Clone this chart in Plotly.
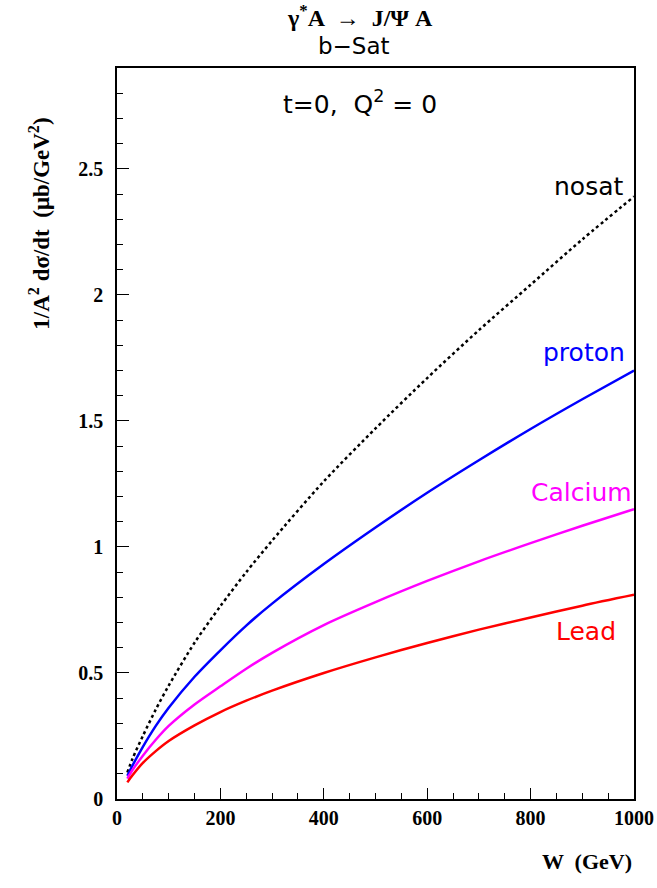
import plotly.graph_objects as go

W = [20, 30, 50, 75, 100, 150, 200, 250, 300, 400, 500, 600, 700, 800, 900, 1000]
nosat = [0.105, 0.16, 0.25, 0.355, 0.45, 0.62, 0.765, 0.90, 1.025, 1.26, 1.47, 1.67, 1.86, 2.04, 2.22, 2.39]
proton = [0.092, 0.133, 0.207, 0.29, 0.362, 0.485, 0.59, 0.688, 0.775, 0.932, 1.077, 1.215, 1.344, 1.468, 1.586, 1.70]
calcium = [0.081, 0.115, 0.172, 0.235, 0.29, 0.375, 0.447, 0.517, 0.58, 0.69, 0.781, 0.865, 0.943, 1.015, 1.084, 1.15]
lead = [0.066, 0.094, 0.143, 0.19, 0.23, 0.292, 0.345, 0.39, 0.43, 0.50, 0.562, 0.619, 0.672, 0.72, 0.767, 0.81]

x_ticks = [0, 200, 400, 600, 800, 1000]
y_ticks = [0, 0.5, 1, 1.5, 2, 2.5]
y_tick_text = ["0", "0.5", "1", "1.5", "2", "2.5"]

series = [
    ("nosat", nosat, "#000000", "dot"),
    ("proton", proton, "#0000ff", "solid"),
    ("Calcium", calcium, "#ff00ff", "solid"),
    ("Lead", lead, "#ff0000", "solid"),
]

fig = go.Figure()
for name, vals, col, dash in series:
    fig.add_trace(go.Scatter(x=W, y=vals, mode="lines", name=name,
                             line=dict(color=col, width=2.5, dash=dash, shape="spline", smoothing=0.8)))

serif = "Liberation Serif"
sans = "DejaVu Sans"

fig.update_layout(
    width=657, height=888,
    margin=dict(l=117, r=23, t=68, b=89),
    paper_bgcolor="white", plot_bgcolor="white",
    showlegend=False,
    xaxis=dict(range=[0, 1000], tickvals=x_ticks, ticktext=["<b>%d</b>" % v for v in x_ticks],
               ticks="inside", ticklen=11, tickwidth=1, tickcolor="black",
               minor=dict(ticks="inside", dtick=50, ticklen=6, tickcolor="black"),
               showline=True, linecolor="black", linewidth=1.5, mirror=True,
               showgrid=False, zeroline=False, automargin=False,
               tickfont=dict(family=serif, size=20, color="black")),
    yaxis=dict(range=[0, 2.9], tickvals=y_ticks, ticktext=["<b>%s</b>" % t for t in y_tick_text],
               ticks="inside", ticklen=12, tickwidth=1, tickcolor="black",
               minor=dict(ticks="inside", dtick=0.1, ticklen=6, tickcolor="black"),
               showline=True, linecolor="black", linewidth=1.5, mirror=True,
               showgrid=False, zeroline=False, ticklabelstandoff=8, automargin=False,
               tickfont=dict(family=serif, size=20, color="black")),
)

annotations = [
    dict(text="<b>γ<sup>*</sup>A  →  J/Ψ A</b>", xref="paper", yref="paper", x=0.470, y=1.071,
         xanchor="center", yanchor="middle",
         showarrow=False, font=dict(family=serif, size=24, color="black")),
    dict(text="b−Sat", xref="paper", yref="paper", x=0.459, y=1.030,
         xanchor="center", yanchor="middle",
         showarrow=False, font=dict(family=sans, size=23, color="black")),
    dict(text="<b>1/A<sup>2</sup> dσ/dt  (μb/GeV<sup>2</sup>)</b>", xref="paper", yref="paper",
         x=-0.149, y=0.787, textangle=-90, xanchor="center", yanchor="middle", showarrow=False,
         font=dict(family=serif, size=23, color="black")),
    dict(text="<b>W  (GeV)</b>", xref="paper", yref="paper", x=1.0, y=-0.086,
         xanchor="right", yanchor="middle",
         showarrow=False, font=dict(family=serif, size=22, color="black")),
    dict(text="t=0,  Q<sup>2</sup> = 0", x=470, y=2.765, showarrow=False,
         xanchor="center", yanchor="middle",
         font=dict(family=sans, size=25, color="black")),
    dict(text="nosat", x=983, y=2.428, xanchor="right", yanchor="middle", showarrow=False,
         font=dict(family=sans, size=25, color="black")),
    dict(text="proton", x=986, y=1.773, xanchor="right", yanchor="middle", showarrow=False,
         font=dict(family=sans, size=25, color="#0000ff")),
    dict(text="Calcium", x=1000, y=1.214, xanchor="right", yanchor="middle", showarrow=False,
         font=dict(family=sans, size=25, color="#ff00ff")),
    dict(text="Lead", x=969, y=0.663, xanchor="right", yanchor="middle", showarrow=False,
         font=dict(family=sans, size=25, color="#ff0000")),
]
fig.update_layout(annotations=annotations)

fig.write_html("out.html", config={"displayModeBar": False},
               post_script="document.body.style.margin='0px';document.body.style.overflow='hidden';")
